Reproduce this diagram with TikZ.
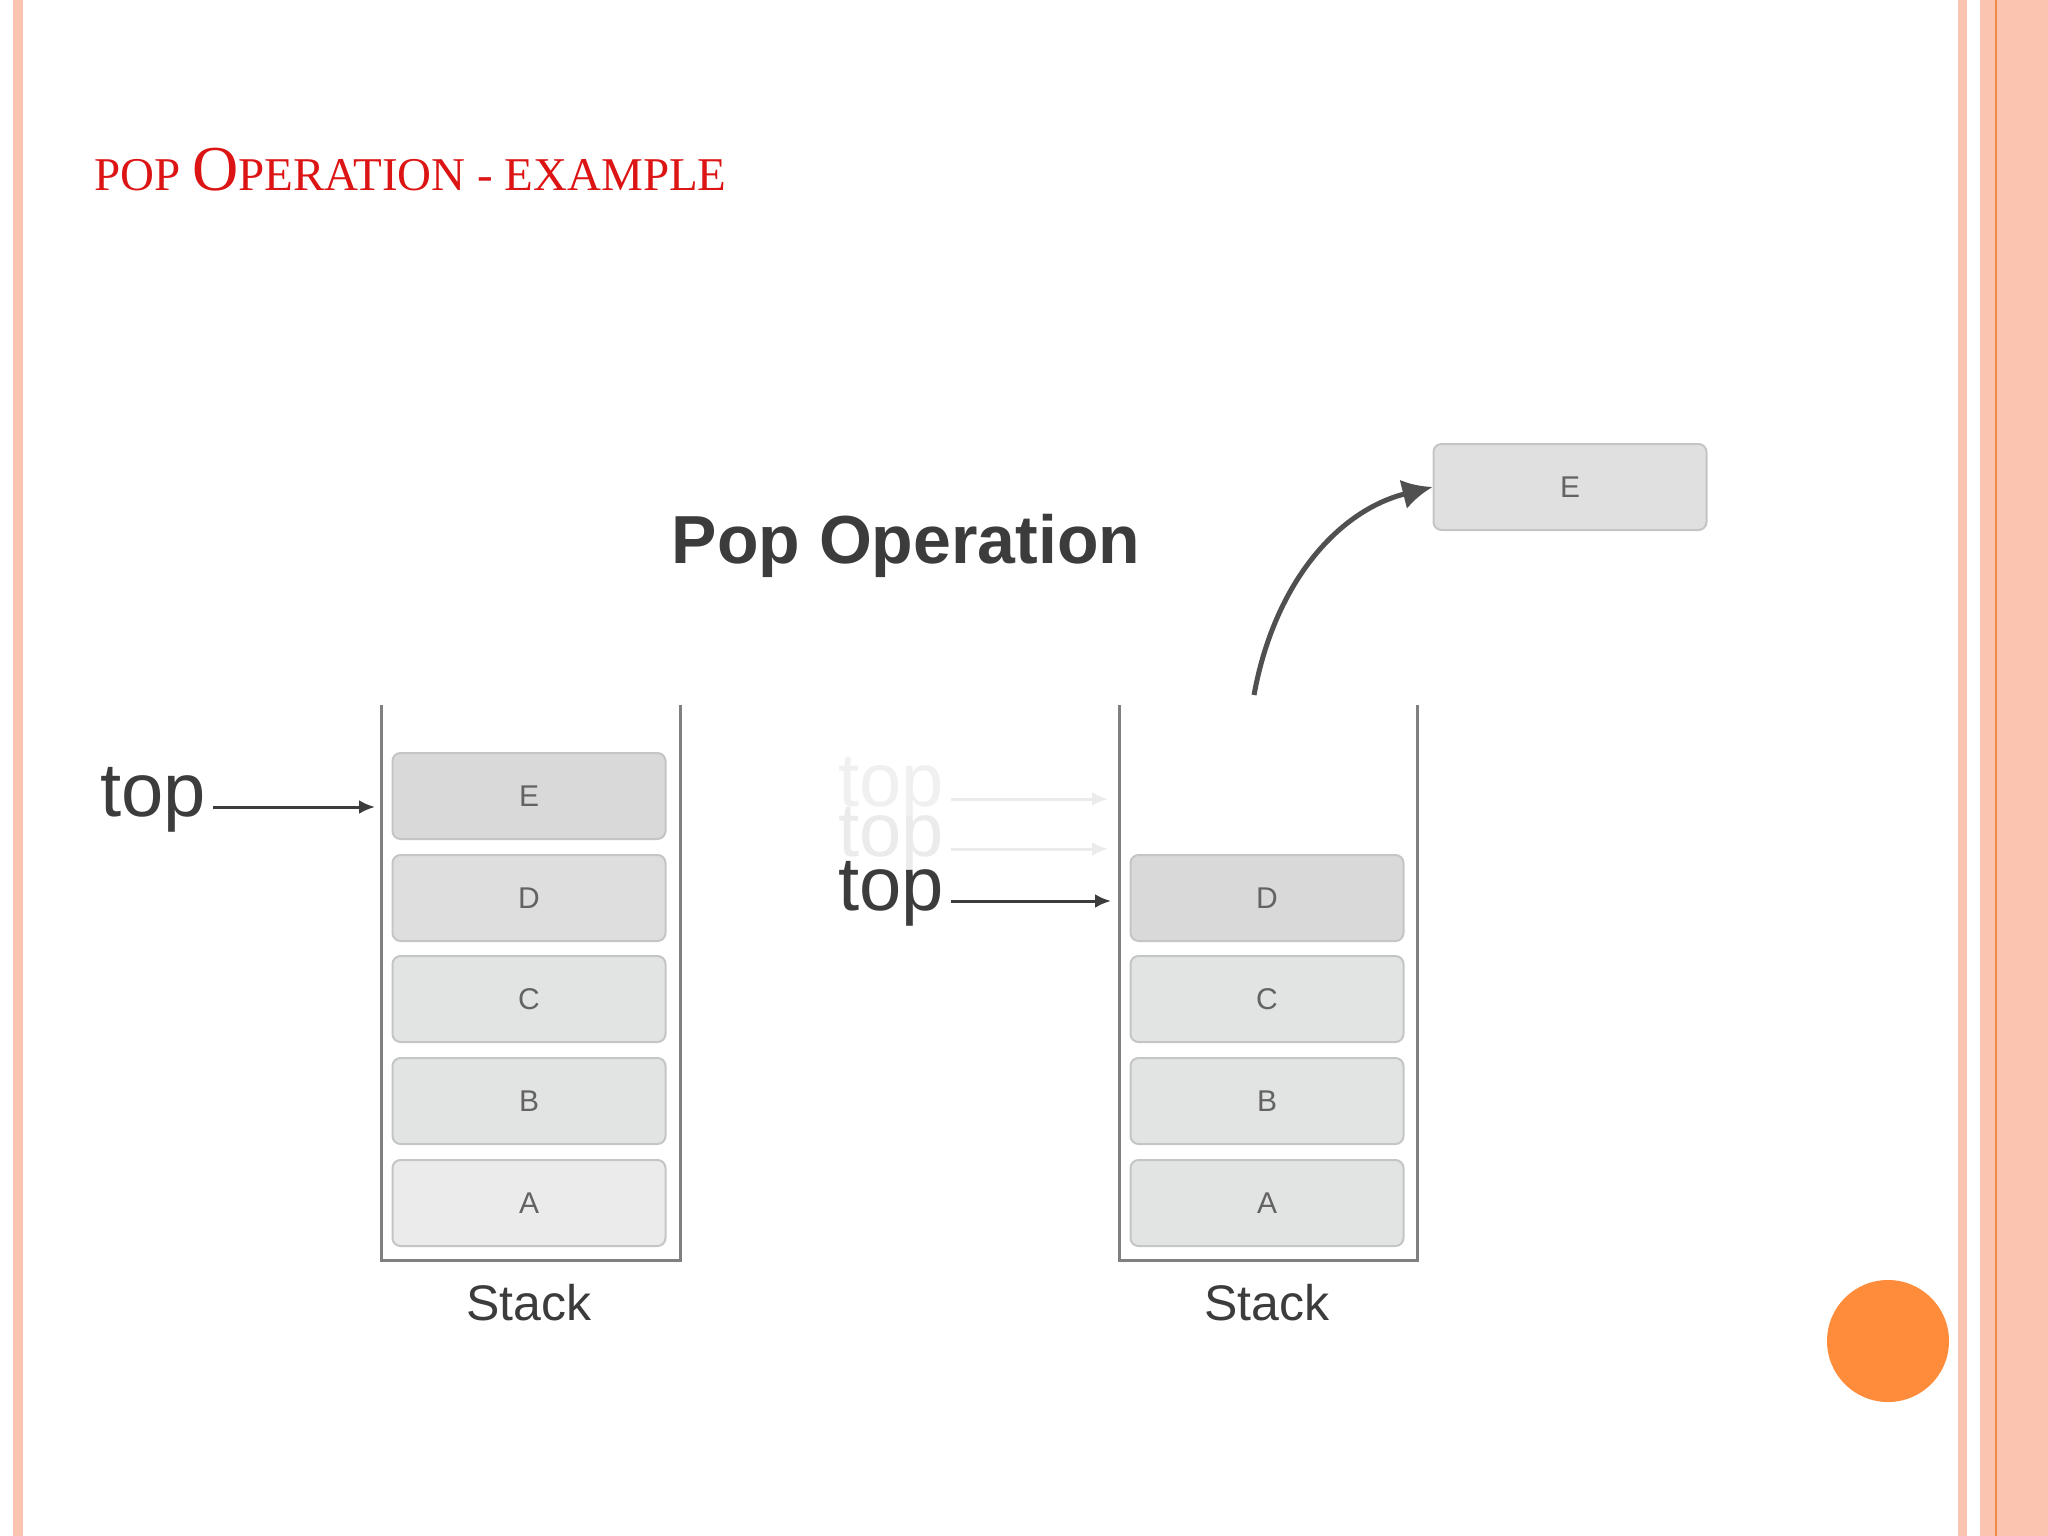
\documentclass[tikz,border=0pt]{standalone}
\usepackage{fontspec}
\setmainfont{Liberation Sans}
\newfontfamily\titlefont{Liberation Serif}
\usetikzlibrary{arrows.meta}
\definecolor{pinkb}{HTML}{FBC4B0}
\definecolor{orangel}{HTML}{F08A4B}
\definecolor{dot}{HTML}{FF8C3A}
\definecolor{boxfill}{HTML}{E2E3E3}
\definecolor{boxdraw}{HTML}{C4C6C6}
\definecolor{wall}{HTML}{808080}
\definecolor{ink}{HTML}{3C3C3C}
\tikzset{
 cell/.style={draw=boxdraw,fill=boxfill,line width=2pt,rounded corners=8pt,minimum width=273pt,minimum height=86pt,text=ink!80,font=\fontsize{30}{30}\selectfont},
 wallline/.style={draw=wall,line width=3pt},
 ptr/.style={draw=ink,line width=3pt,-{Latex[length=16pt,width=14pt]}},
 fptr/.style={draw=black!8,line width=3pt,-{Latex[length=16pt,width=14pt]}},
 toplbl/.style={font=\fontsize{76}{76}\selectfont,text=ink},
 stk/.style={font=\fontsize{50}{50}\selectfont,text=ink}
}
\begin{document}
\begin{tikzpicture}[x=1pt,y=-1pt]
\useasboundingbox (0,0) rectangle (2048,1536);
\fill[white] (0,0) rectangle (2048,1536);
\fill[pinkb] (13,0) rectangle (23,1536);
\fill[pinkb] (1958,0) rectangle (1967,1536);
\fill[pinkb] (1980,0) rectangle (2048,1536);
\draw[orangel,line width=2pt] (1996,0) -- (1996,1536);
\fill[dot] (1888,1341) circle (61);
\node[anchor=base west,text={rgb,255:red,220;green,20;blue,20},inner sep=0] (title) at (94,190) {\titlefont\fontsize{47}{47}\selectfont POP \fontsize{64}{64}\selectfont O\fontsize{47}{47}\selectfont PERATION - EXAMPLE};
\node[font=\bfseries\fontsize{68}{68}\selectfont,text=ink] (pop) at (906,546) {Pop Operation};
% left stack
\draw[wallline] (381,705) -- (381,1260) -- (680,1260) -- (680,705);
\node[cell,fill=black!15] (lE) at (529,796) {E};
\node[cell,fill=black!13] (lD) at (529,898) {D};
\node[cell] (lC) at (529,999) {C};
\node[cell] (lB) at (529,1101) {B};
\node[cell,fill=black!8] (lA) at (529,1203) {A};
\node[stk] (ls) at (529,1303) {Stack};
\node[toplbl] (lt) at (153,800) {top};
\coordinate (lta) at (375,807);
\draw[ptr] (lt.east |- lta) ++(4,0) -- (lta);
% right stack
\draw[wallline] (1119,705) -- (1119,1260) -- (1417,1260) -- (1417,705);
\node[cell,fill=black!15] (rD) at (1267,898) {D};
\node[cell] (rC) at (1267,999) {C};
\node[cell] (rB) at (1267,1101) {B};
\node[cell] (rA) at (1267,1203) {A};
\node[stk] (rs) at (1267,1303) {Stack};
\node[toplbl,text=black!6] (f1) at (891,790) {top};
\node[toplbl,text=black!8] (f2) at (891,840) {top};
\node[toplbl] (rt) at (891,894) {top};
\coordinate (f1a) at (1108,799);
\coordinate (f2a) at (1108,849);
\coordinate (rta) at (1111,901);
\draw[fptr] (f1.east |- f1a) ++(4,0) -- (f1a);
\draw[fptr] (f2.east |- f2a) ++(4,0) -- (f2a);
\draw[ptr] (rt.east |- rta) ++(4,0) -- (rta);
\node[cell,fill=black!12] (pE) at (1570,487) {E};
\coordinate (cs) at (1254,695);
\draw[draw=ink!90,line width=5pt,-{Latex[length=30pt,width=30pt]}] (cs) .. controls (1275,580) and (1340,510) .. (pE.west);
\end{tikzpicture}
\end{document}
